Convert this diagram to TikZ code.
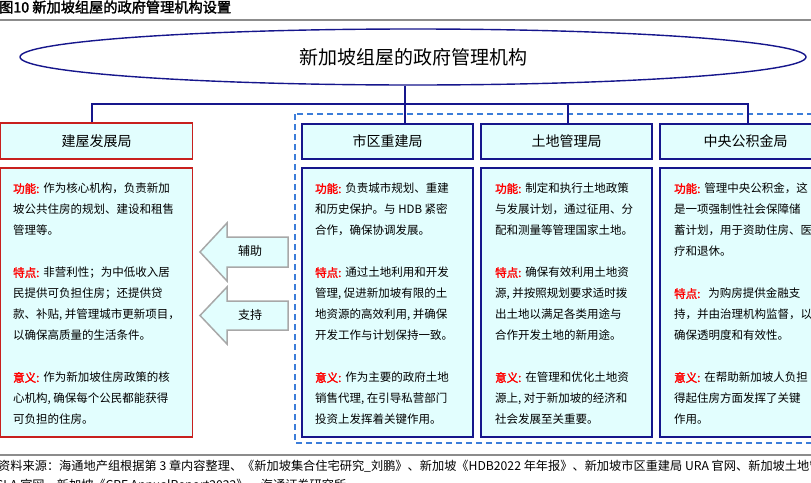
\documentclass[tikz,border=0pt]{standalone}
\usepackage{fontspec}
\setmainfont{Noto Sans CJK SC}[BoldFont=Noto Sans CJK SC, BoldFeatures={FakeBold=2}]
\usetikzlibrary{shapes.geometric,calc}
\definecolor{navy}{HTML}{16168C}
\definecolor{cyanfill}{HTML}{E2FEFE}
\definecolor{redline}{HTML}{C8201E}
\definecolor{dashblue}{HTML}{3C7DD9}
\definecolor{arrowgray}{HTML}{A8A8A8}
\definecolor{lblred}{HTML}{FF0000}
\definecolor{rulegray}{HTML}{8C8C8C}
\newcommand{\lab}[1]{{\color{lblred}\bfseries #1}\hspace{4pt}}
\tikzset{
  conn/.style={draw=navy, line width=1.6pt},
  redbox/.style={draw=redline, line width=1.8pt, fill=cyanfill, rectangle, inner sep=0pt, minimum width=192pt},
  bluebox/.style={draw=navy, line width=1.8pt, fill=cyanfill, rectangle, inner sep=0pt, minimum width=171pt},
  headtext/.style={font=\fontsize{14}{16}\selectfont},
  bodytext/.style={anchor=north west, inner sep=0pt, align=left, font=\fontsize{11.5}{21}\selectfont},
  arrowsty/.style={draw=arrowgray, line width=1.5pt, fill=cyanfill, line join=miter},
  rulesty/.style={draw=rulegray, line width=1.3pt}
}
\begin{document}
\begin{tikzpicture}[x=1pt,y=-1pt]
\useasboundingbox (0,0) rectangle (811,482);
\clip (0,0) rectangle (811,482);
% title
\node[anchor=west, inner sep=0pt, font=\fontsize{14.2}{16}\selectfont\bfseries] (fig) at (-1,7) {图10 新加坡组屋的政府管理机构设置};
\draw[rulesty] (0,20) -- (811,20);
% dashed group
\draw[dashblue, line width=1.4pt, dash pattern=on 6pt off 4pt] (295,114) rectangle (850,443);
% ellipse
\node[ellipse, draw=navy, line width=1.4pt, fill=white, minimum width=786pt, minimum height=56pt, inner sep=0pt, font=\fontsize{19}{22}\selectfont] (hq) at (413,57) {新加坡组屋的政府管理机构};
% headers
\node[redbox, minimum height=36pt, headtext] (hdbh) at (96.5,141) {建屋发展局};
\node[bluebox, minimum height=35pt, headtext] (urah) at (387.5,141.5) {市区重建局};
\node[bluebox, minimum height=35pt, headtext] (slah) at (566.5,141.5) {土地管理局};
\node[bluebox, minimum height=35pt, headtext] (cpfh) at (745.5,141.5) {中央公积金局};
% content boxes
\node[redbox, minimum height=269pt] (hdbc) at (96.5,302.5) {};
\node[bluebox, minimum height=269pt] (urac) at (387.5,302.5) {};
\node[bluebox, minimum height=269pt] (slac) at (566.5,302.5) {};
\node[bluebox, minimum height=269pt] (cpfc) at (745.5,302.5) {};
% connectors
\coordinate (jl) at (92,104);
\coordinate (jc) at (405,104);
\coordinate (jm) at (568,104);
\coordinate (jr) at (748,104);
\draw[conn] (jc |- hq.south) -- (jc |- urah.north);
\draw[conn] (jl |- hdbh.north) -- (jl) -- (jr) -- (jr |- cpfh.north);
\draw[conn] (jm) -- (jm |- slah.north);
% body texts
\node[bodytext] (hdbt) at (13,183) {\lab{功能:}作为核心机构，负责新加\\坡公共住房的规划、建设和租售\\管理等。\\[21pt]
\lab{特点:}非营利性；为中低收入居\\民提供可负担住房；还提供贷\\款、补贴, 并管理城市更新项目，\\以确保高质量的生活条件。\\[21pt]
\lab{意义:}作为新加坡住房政策的核\\心机构, 确保每个公民都能获得\\可负担的住房。};
\node[bodytext] (urat) at (315,183) {\lab{功能:}负责城市规划、重建\\和历史保护。与 HDB 紧密\\合作，确保协调发展。\\[21pt]
\lab{特点:}通过土地利用和开发\\管理, 促进新加坡有限的土\\地资源的高效利用, 并确保\\开发工作与计划保持一致。\\[21pt]
\lab{意义:}作为主要的政府土地\\销售代理, 在引导私营部门\\投资上发挥着关键作用。};
\node[bodytext] (slat) at (495,183) {\lab{功能:}制定和执行土地政策\\与发展计划，通过征用、分\\配和测量等管理国家土地。\\[21pt]
\lab{特点:}确保有效利用土地资\\源, 并按照规划要求适时拨\\出土地以满足各类用途与\\合作开发土地的新用途。\\[21pt]
\lab{意义:}在管理和优化土地资\\源上, 对于新加坡的经济和\\社会发展至关重要。};
\node[bodytext] (cpft) at (674,183) {\lab{功能:}管理中央公积金，这\\是一项强制性社会保障储\\蓄计划，用于资助住房、医\\疗和退休。\\[21pt]
\lab{特点:}\hspace{4pt}为购房提供金融支\\持，并由治理机构监督，以\\确保透明度和有效性。\\[21pt]
\lab{意义:}在帮助新加坡人负担\\得起住房方面发挥了关键\\作用。};
% arrows
\draw[arrowsty] (288,237) -- (227,237) -- (227,223) -- (200,252) -- (227,281) -- (227,267) -- (288,267) -- cycle;
\node[inner sep=0pt, font=\fontsize{12}{14}\selectfont] (aux) at (250,251) {辅助};
\draw[arrowsty] (288,301) -- (227,301) -- (227,287) -- (200,315.5) -- (227,344) -- (227,330) -- (288,330) -- cycle;
\node[inner sep=0pt, font=\fontsize{12}{14}\selectfont] (sup) at (250,315) {支持};
% footer
\draw[rulesty] (0,455) -- (811,455);
\node[anchor=west, inner sep=0pt, font=\fontsize{12.2}{14}\selectfont] (src1) at (-2,466) {资料来源：海通地产组根据第 3 章内容整理、《新加坡集合住宅研究\_刘鹏》、新加坡《HDB2022 年年报》、新加坡市区重建局 URA 官网、新加坡土地管理局};
\node[anchor=west, inner sep=0pt, font=\fontsize{12.2}{14}\selectfont] (src2) at (-4,486) {SLA 官网、新加坡《CPF AnnualReport2022》、海通证券研究所};
\end{tikzpicture}
\end{document}
